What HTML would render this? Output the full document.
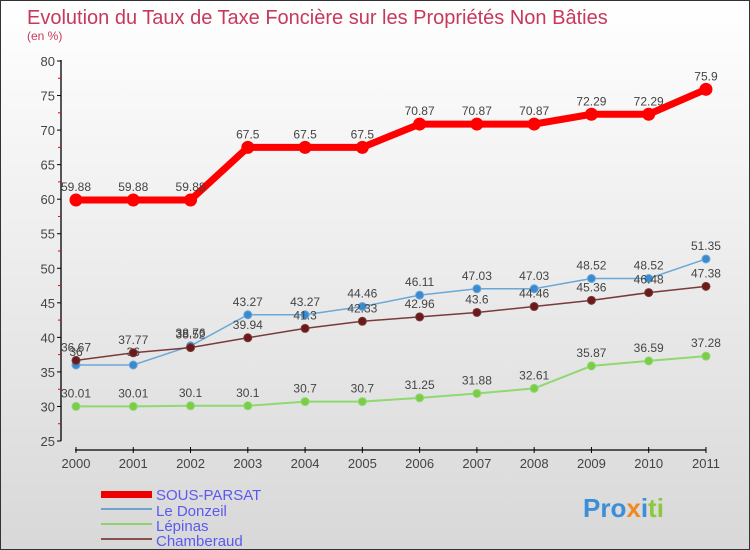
<!DOCTYPE html>
<html><head><meta charset="utf-8"><style>
body{margin:0;}
#c{width:748px;height:548px;border:1px solid #333;background:linear-gradient(#fff,#d8d8d8);position:relative;font-family:"Liberation Sans",sans-serif;overflow:hidden}
</style></head><body>
<div id="c">
<svg width="748" height="548" id="svg">
<text x="26" y="23" font-size="20" fill="#c8385a">Evolution du Taux de Taxe Foncière sur les Propriétés Non Bâties</text>
<text x="26" y="39" font-size="12" fill="#c8385a">(en %)</text>
<line x1="60" y1="59" x2="60" y2="440" stroke="#000" stroke-width="1.3"/>
<line x1="74" y1="449" x2="705" y2="449" stroke="#000" stroke-width="1.3"/>
<g id="axes"></g><g id="series"></g>
<g>
<rect x="100" y="490" width="51" height="7" fill="#e00"/>
<text x="155" y="499" font-size="15" fill="#5a5af0">SOUS-PARSAT</text>
<line x1="100" y1="508" x2="151" y2="508" stroke="#6fa3cc" stroke-width="2"/>
<text x="155" y="515" font-size="15" fill="#5a5af0">Le Donzeil</text>
<line x1="100" y1="523" x2="151" y2="523" stroke="#8fd070" stroke-width="2"/>
<text x="155" y="530" font-size="15" fill="#5a5af0">Lépinas</text>
<line x1="100" y1="538" x2="151" y2="538" stroke="#8a5050" stroke-width="2"/>
<text x="155" y="545" font-size="15" fill="#5a5af0">Chamberaud</text>
</g>
<text x="582" y="516" font-size="26" font-weight="bold"><tspan fill="#3a8fd8">Pro</tspan><tspan fill="#f08a20">x</tspan><tspan fill="#3a8fd8">i</tspan><tspan fill="#8cc83c">ti</tspan></text>
</svg></div>
<script>
const years=["2000","2001","2002","2003","2004","2005","2006","2007","2008","2009","2010","2011"];
const yTicks=[25,30,35,40,45,50,55,60,65,70,75,80];
const sousParsat=[59.88,59.88,59.88,67.5,67.5,67.5,70.87,70.87,70.87,72.29,72.29,75.9];
const leDonzeil=[36,36,38.76,43.27,43.27,44.46,46.11,47.03,47.03,48.52,48.52,51.35];
const lepinas=[30.01,30.01,30.1,30.1,30.7,30.7,31.25,31.88,32.61,35.87,36.59,37.28];
const chamberaud=[36.67,37.77,38.52,39.94,41.3,42.33,42.96,43.6,44.46,45.36,46.48,47.38];
const NS="http://www.w3.org/2000/svg";
const xS=i=>75+i*57.27;
const yS=v=>60+(80-v)*380/55;
function mk(t,a,p){const e=document.createElementNS(NS,t);for(const k in a)e.setAttribute(k,a[k]);p.appendChild(e);return e;}
const ax=document.getElementById('axes');
yTicks.forEach(v=>{
 mk('line',{x1:56,y1:yS(v),x2:60,y2:yS(v),stroke:'#000'},ax);
 if(v<80) mk('line',{x1:57,y1:yS(v+2.5),x2:60,y2:yS(v+2.5),stroke:'#e00'},ax);
 const t=mk('text',{x:54,y:yS(v)+5,'font-size':13,'text-anchor':'end',fill:'#444'},ax);t.textContent=v;
 
 
});
years.forEach((y,i)=>{
 mk('line',{x1:xS(i),y1:446,x2:xS(i),y2:452,stroke:'#000'},ax);
 const t=mk('text',{x:xS(i),y:467,'font-size':13,'text-anchor':'middle',fill:'#444'},ax);t.textContent=y;
 
 
});
const sg=document.getElementById('series');
function series(d,col,w,r,fill,name){
 const g=mk('g',{},sg);
 
 
 mk('polyline',{points:d.map((v,i)=>xS(i)+','+yS(v)).join(' '),fill:'none',stroke:col,'stroke-width':w},g);
 d.forEach((v,i)=>{
  const c=mk('circle',{cx:xS(i),cy:yS(v),r:r,fill:fill,stroke:col,'stroke-width':1},g);
  
  
  const t=mk('text',{x:xS(i),y:yS(v)-9,'font-size':12,'text-anchor':'middle',fill:'#444'},g);t.textContent=v;
  
  
 });
}
series(lepinas,'#90d870',2,4,'#7ccc48','lepinas');
series(leDonzeil,'#6aa8d8',1.5,4,'#3a8ad0','le-donzeil');
series(chamberaud,'#7a3a3a',1.5,4,'#6a1a1a','chamberaud');
series(sousParsat,'#f00',7,6,'#f00','sous-parsat');
</script>
</body></html>
